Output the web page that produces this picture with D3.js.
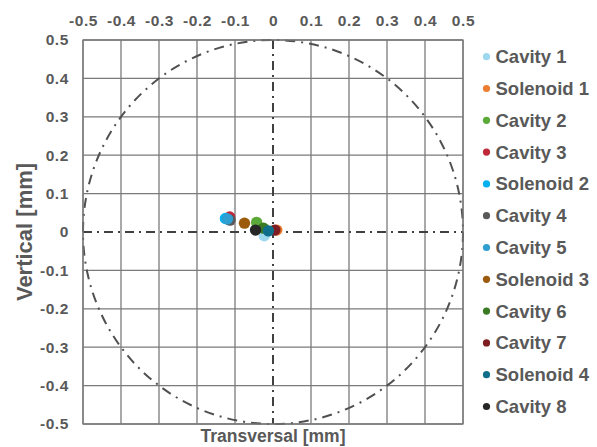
<!DOCTYPE html>
<html><head><meta charset="utf-8">
<script src="https://cdn.jsdelivr.net/npm/d3@7"></script>
<style>body{margin:0;background:#fff;}text{font-family:Arial,"Liberation Sans",sans-serif;}</style>
</head><body><svg id="c" width="597" height="447"></svg>
<script>
const seriesNames = ["Cavity 1","Solenoid 1","Cavity 2","Cavity 3","Solenoid 2","Cavity 4","Cavity 5","Solenoid 3","Cavity 6","Cavity 7","Solenoid 4","Cavity 8"];
const xValues = [-0.023, 0.010, -0.043, -0.114, -0.125, -0.113, -0.120, -0.075, -0.025, 0.005, -0.012, -0.046];
const yValues = [-0.010, 0.005, 0.025, 0.039, 0.035, 0.031, 0.034, 0.023, 0.010, 0.005, 0.003, 0.005];
const colors = ["#9DD8EE","#ED7D31","#5BA939","#C0283A","#00B0F0","#595959","#2E9FD0","#9C5A0C","#3A7A22","#7E1E22","#0F6F8A","#262626"];
const tickValues = [-0.5,-0.4,-0.3,-0.2,-0.1,0,0.1,0.2,0.3,0.4,0.5];
const tickLabels = ["-0.5","-0.4","-0.3","-0.2","-0.1","0","0.1","0.2","0.3","0.4","0.5"];

const svg = d3.select("#c");
const L=83, R=463, T=40, B=424;
const x = d3.scaleLinear().domain([-0.5,0.5]).range([L,R]);
const y = d3.scaleLinear().domain([-0.5,0.5]).range([B,T]);
const gridCol="#7a7a7a", txtCol="#595959";

const g = svg.append("g");
tickValues.forEach(v=>{
  if(v!==0){
    g.append("line").attr("x1",x(v)).attr("x2",x(v)).attr("y1",T).attr("y2",B).attr("stroke",gridCol).attr("stroke-width",1.3);
    g.append("line").attr("y1",y(v)).attr("y2",y(v)).attr("x1",L).attr("x2",R).attr("stroke",gridCol).attr("stroke-width",1.3);
  }
});
const xAxis = d3.axisTop(x).tickValues(tickValues).tickFormat((d,i)=>tickLabels[i]).tickSize(0).tickPadding(14);
const yAxis = d3.axisLeft(y).tickValues(tickValues).tickFormat((d,i)=>tickLabels[i]).tickSize(0).tickPadding(14);
const ax = svg.append("g").attr("transform",`translate(0,${T})`).call(xAxis);
const ay = svg.append("g").attr("transform",`translate(${L},0)`).call(yAxis);
[ax,ay].forEach(a=>{a.select(".domain").remove();a.selectAll("text").attr("fill",txtCol).attr("font-size",15.5).attr("font-weight","bold").attr("letter-spacing",0.6);});

const dd = "9,5,2,5";
svg.append("line").attr("x1",x(0)).attr("x2",x(0)).attr("y1",T).attr("y2",B).attr("stroke","#404040").attr("stroke-width",2).attr("stroke-dasharray",dd);
svg.append("line").attr("x1",L).attr("x2",R).attr("y1",y(0)).attr("y2",y(0)).attr("stroke","#404040").attr("stroke-width",2).attr("stroke-dasharray",dd);
svg.append("ellipse").attr("cx",x(0)).attr("cy",y(0)).attr("rx",x(0.5)-x(0)).attr("ry",y(0)-y(0.5)).attr("fill","none").attr("stroke","#505050").attr("stroke-width",2).attr("stroke-dasharray","10,6,2,6");

svg.append("rect").attr("x",L).attr("y",T).attr("width",R-L).attr("height",B-T).attr("fill","none").attr("stroke",gridCol).attr("stroke-width",1.3);

svg.append("g").selectAll("circle").data(seriesNames).join("circle")
  .attr("cx",(d,i)=>x(xValues[i])).attr("cy",(d,i)=>y(yValues[i])).attr("r",5.7).attr("fill",(d,i)=>colors[i]);

svg.append("text").attr("x",(L+R)/2).attr("y",442).attr("text-anchor","middle").attr("font-size",17.5).attr("font-weight","bold").attr("fill",txtCol).text("Transversal [mm]");
svg.append("text").attr("transform",`translate(32,${(T+B)/2}) rotate(-90)`).attr("text-anchor","middle").attr("font-size",22).attr("font-weight","bold").attr("fill",txtCol).text("Vertical [mm]");

const leg = svg.append("g");
seriesNames.forEach((n,i)=>{
  const yy = 56.7 + i*31.8;
  leg.append("circle").attr("cx",486.5).attr("cy",yy).attr("r",3.6).attr("fill",colors[i]);
  leg.append("text").attr("x",495.5).attr("y",yy+6.5).attr("font-size",18.5).attr("font-weight","bold").attr("fill",txtCol).text(n);
});
</script></body></html>
